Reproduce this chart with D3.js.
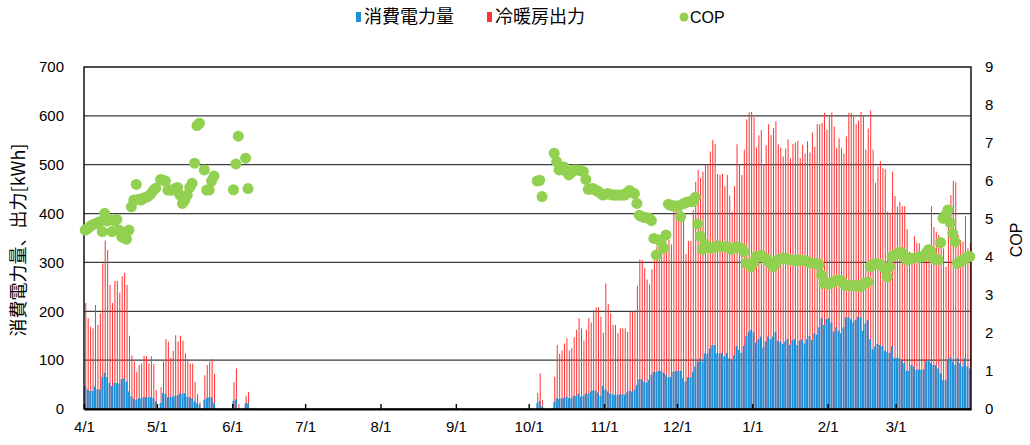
<!DOCTYPE html>
<html>
<head>
<meta charset="utf-8">
<script src="https://cdn.jsdelivr.net/npm/d3@7"></script>
<style>
body { margin: 0; background: #fff; }
text { font-family: "Liberation Sans", Arial, "Noto Sans CJK JP", sans-serif; fill: #000; }
.jp { font-family: "Noto Sans CJK JP", sans-serif; }
</style>
</head>
<body>
<svg id="chart" width="1030" height="445"></svg>
<script>
// daily values, 4/1 .. 3/31 (365 days), one line per month
const monthLabels = ['4/1','5/1','6/1','7/1','8/1','9/1','10/1','11/1','12/1','1/1','2/1','3/1'];
const monthStarts = [0, 30, 61, 91, 122, 153, 183, 214, 244, 275, 306, 334];
const leftTicks = [0, 100, 200, 300, 400, 500, 600, 700];
const rightTicks = [0, 1, 2, 3, 4, 5, 6, 7, 8, 9];
const seriesNames = ['消費電力量', '冷暖房出力', 'COP'];

const power = [
  47,40,37,37,46,40,40,65,74,65,53,47,53,53,52,61,63,56,36,26,21,19,22,22,24,25,24,24,23,16,
  0,12,33,31,24,25,25,27,28,32,32,32,25,24,22,16,12,9,0,19,22,24,24,13,0,0,0,0,0,0,0,
  17,20,2,0,0,12,12,0,0,0,0,0,0,0,0,0,0,0,0,0,0,0,0,0,0,0,0,0,0,0,
  0,0,0,0,0,0,0,0,0,0,0,0,0,0,0,0,0,0,0,0,0,0,0,0,0,0,0,0,0,0,0,
  0,0,0,0,0,0,0,0,0,0,0,0,0,0,0,0,0,0,0,0,0,0,0,0,0,0,0,0,0,0,0,
  0,0,0,0,0,0,0,0,0,0,0,0,0,0,0,0,0,0,0,0,0,0,0,0,0,0,0,0,0,0,
  0,0,0,12,16,5,0,0,0,0,14,22,20,22,23,25,22,22,27,27,31,25,27,32,31,36,38,37,34,27,47,
  40,36,32,30,29,29,30,30,29,34,37,36,40,49,61,61,56,54,60,70,76,76,78,78,74,70,65,65,76,78,
  78,78,63,56,65,65,76,87,97,104,97,114,113,124,131,131,114,114,115,108,114,104,100,110,129,121,115,129,149,158,162,
  157,136,143,148,126,138,149,143,148,157,140,138,133,138,143,131,141,143,131,140,143,134,143,149,141,155,152,167,186,172,184,
  186,177,158,167,160,155,167,188,188,184,177,182,189,188,160,175,182,143,122,128,133,131,129,119,117,115,129,104,
  104,104,100,94,78,78,90,87,80,81,80,81,98,100,94,90,90,83,73,59,59,102,106,97,90,104,94,87,104,87,83
];

const output = [
  217,186,169,165,213,172,196,298,345,325,254,217,262,262,238,272,279,254,150,110,97,76,90,93,109,108,93,108,92,39,
  0,45,97,143,138,105,119,151,138,150,140,114,102,93,93,55,31,14,0,69,90,97,102,72,0,0,0,0,0,0,0,
  55,83,10,0,0,27,35,0,0,0,0,0,0,0,0,0,0,0,0,0,0,0,0,0,0,0,0,0,0,0,
  0,0,0,0,0,0,0,0,0,0,0,0,0,0,0,0,0,0,0,0,0,0,0,0,0,0,0,0,0,0,0,
  0,0,0,0,0,0,0,0,0,0,0,0,0,0,0,0,0,0,0,0,0,0,0,0,0,0,0,0,0,0,0,
  0,0,0,0,0,0,0,0,0,0,0,0,0,0,0,0,0,0,0,0,0,0,0,0,0,0,0,0,0,0,
  0,0,0,33,73,18,0,0,0,0,66,131,113,120,134,145,120,125,147,162,186,165,140,162,186,177,198,208,208,189,156,
  257,215,196,172,172,155,165,165,165,158,199,199,199,252,306,305,289,265,255,286,304,332,340,338,332,322,346,337,404,421,
  400,407,400,317,344,344,407,465,489,473,486,500,500,527,551,542,481,479,481,456,479,437,404,456,542,499,479,531,593,607,608,
  597,535,560,571,501,540,583,561,575,589,542,535,517,533,552,513,542,545,549,513,541,523,548,525,566,537,583,583,586,606,571,
  601,607,578,534,554,534,523,558,606,606,598,583,590,608,601,531,574,611,531,463,496,507,493,491,404,400,486,436,
  414,424,415,415,368,322,312,354,340,339,312,329,320,322,415,372,363,356,338,329,291,377,438,467,464,356,346,343,395,329,340
];

const N = null;
const cop = [
  4.71,4.75,4.80,4.85,4.87,4.90,4.93,4.67,5.15,4.95,4.99,4.67,4.95,4.99,4.71,4.53,4.50,4.47,4.71,5.32,5.50,5.91,5.52,5.50,5.55,5.57,5.60,5.66,5.75,5.81,
  N,6.04,6.02,6.00,5.76,5.76,5.76,5.80,5.83,5.63,5.41,5.50,5.63,5.83,5.94,6.47,7.46,7.52,N,6.29,5.76,5.76,6.00,6.13,N,N,N,N,N,N,N,
  5.77,6.45,7.18,N,N,6.60,5.80,N,N,N,N,N,N,N,N,N,N,N,N,N,N,N,N,N,N,N,N,N,N,N,
  N,N,N,N,N,N,N,N,N,N,N,N,N,N,N,N,N,N,N,N,N,N,N,N,N,N,N,N,N,N,N,
  N,N,N,N,N,N,N,N,N,N,N,N,N,N,N,N,N,N,N,N,N,N,N,N,N,N,N,N,N,N,N,
  N,N,N,N,N,N,N,N,N,N,N,N,N,N,N,N,N,N,N,N,N,N,N,N,N,N,N,N,N,N,
  N,N,N,6.00,6.02,5.59,N,N,N,N,6.73,6.51,6.29,6.33,6.37,6.25,6.16,6.22,6.29,6.29,6.29,6.27,6.25,6.04,5.78,5.79,5.80,5.76,5.73,5.68,5.63,
  5.65,5.67,5.65,5.63,5.63,5.63,5.63,5.63,5.63,5.70,5.75,5.70,5.67,5.41,5.10,5.06,5.04,5.03,5.02,4.96,4.49,4.05,4.45,4.38,4.23,4.58,5.39,5.36,5.34,5.34,
  5.34,5.06,5.40,5.43,5.45,5.46,5.46,5.57,4.87,4.55,4.20,4.34,4.27,4.25,4.23,4.26,4.29,4.28,4.27,4.27,4.27,4.23,4.20,4.24,4.27,4.25,4.23,4.14,3.83,3.80,3.75,
  3.85,4.01,4.02,4.04,4.00,3.97,3.90,3.83,3.74,3.80,3.92,3.95,3.97,3.96,3.95,3.93,3.92,3.90,3.91,3.92,3.91,3.90,3.88,3.85,3.84,3.83,3.82,3.80,3.53,3.31,3.30,
  3.29,3.32,3.34,3.38,3.38,3.38,3.30,3.25,3.25,3.25,3.25,3.25,3.23,3.22,3.28,3.32,3.34,3.75,3.80,3.83,3.82,3.81,3.75,3.70,3.48,3.74,4.01,4.05,
  4.08,4.12,4.12,4.02,3.92,3.95,3.97,3.97,3.98,4.00,4.00,4.01,4.10,4.19,4.15,3.97,3.95,3.92,4.38,5.02,5.10,5.24,4.90,4.62,4.40,3.83,3.88,3.92,3.95,4.00,4.01
];

const colors = { power: '#1f8fd8', output: '#ff3333', cop: '#92d050' };

const svg = d3.select('#chart');
const plot = { left: 84, right: 971, top: 67, bottom: 409 };

const x = d3.scaleLinear().domain([0, power.length]).range([plot.left, plot.right]);
const yL = d3.scaleLinear().domain([0, 700]).range([plot.bottom, plot.top]);
const yR = d3.scaleLinear().domain([0, 9]).range([plot.bottom, plot.top]);

// grid
svg.append('g').selectAll('line').data(leftTicks.slice(1, -1)).enter().append('line')
  .attr('x1', plot.left).attr('x2', plot.right)
  .attr('y1', d => yL(d)).attr('y2', d => yL(d))
  .attr('stroke', '#3c3c3c').attr('stroke-width', 1.2);

const days = d3.range(power.length);

// bars: red output behind, blue power on top
svg.append('g').selectAll('rect').data(days.filter(i => output[i] > 0)).enter().append('rect')
  .attr('x', i => x(i) + 1.25).attr('width', 1.0)
  .attr('y', i => yL(output[i])).attr('height', i => yL(0) - yL(output[i]))
  .attr('fill', colors.output);

svg.append('g').selectAll('rect').data(days.filter(i => power[i] > 0)).enter().append('rect')
  .attr('x', i => x(i) + 0.3).attr('width', 1.9)
  .attr('y', i => yL(power[i])).attr('height', i => yL(0) - yL(power[i]))
  .attr('fill', colors.power);

// frame
svg.append('rect')
  .attr('x', plot.left).attr('y', plot.top)
  .attr('width', plot.right - plot.left).attr('height', plot.bottom - plot.top)
  .attr('fill', 'none').attr('stroke', '#000').attr('stroke-width', 1.4);

// x axis with inward ticks
const xAxis = svg.append('g').attr('transform', 'translate(0,' + plot.bottom + ')')
  .call(d3.axisBottom(x).tickValues(monthStarts).tickFormat((d, i) => monthLabels[i])
    .tickSizeInner(-5).tickSizeOuter(0).tickPadding(12));
xAxis.select('.domain').attr('stroke', '#000').attr('stroke-width', 2);
xAxis.selectAll('.tick line').attr('stroke', '#000').attr('stroke-width', 1.4);
xAxis.selectAll('text').attr('font-size', 15).attr('font-family', '"Liberation Sans", Arial, sans-serif');

const leftAxis = svg.append('g').attr('transform', 'translate(' + (plot.left - 20) + ',0)')
  .call(d3.axisLeft(yL).tickValues(leftTicks).tickSize(0).tickPadding(0));
leftAxis.select('.domain').remove();
leftAxis.selectAll('text').attr('font-size', 15).attr('font-family', '"Liberation Sans", Arial, sans-serif');

const rightAxis = svg.append('g').attr('transform', 'translate(' + (plot.right + 14) + ',0)')
  .call(d3.axisRight(yR).tickValues(rightTicks).tickSize(0).tickPadding(0));
rightAxis.select('.domain').remove();
rightAxis.selectAll('text').attr('font-size', 15).attr('font-family', '"Liberation Sans", Arial, sans-serif');

// COP dots
svg.append('g').selectAll('circle').data(days.filter(i => cop[i] != null)).enter().append('circle')
  .attr('cx', i => x(i + 0.5)).attr('cy', i => yR(cop[i]))
  .attr('r', 5.5).attr('fill', colors.cop);

// axis titles
svg.append('text').attr('class', 'jp')
  .attr('transform', 'translate(25,240) rotate(-90)')
  .attr('text-anchor', 'middle').attr('font-size', 18)
  .text('消費電力量、出力[kWh]');
svg.append('text')
  .attr('transform', 'translate(1022,240) rotate(-90)')
  .attr('text-anchor', 'middle').attr('font-size', 16)
  .text('COP');

// legend
const legend = svg.append('g').attr('transform', 'translate(0,17)');
legend.append('rect').attr('x', 356).attr('y', -5).attr('width', 5).attr('height', 10).attr('fill', colors.power);
legend.append('text').attr('class', 'jp').attr('x', 364).attr('dy', '0.35em').attr('font-size', 18).text(seriesNames[0]);
legend.append('rect').attr('x', 487).attr('y', -5).attr('width', 5).attr('height', 10).attr('fill', colors.output);
legend.append('text').attr('class', 'jp').attr('x', 495).attr('dy', '0.35em').attr('font-size', 18).text(seriesNames[1]);
legend.append('circle').attr('cx', 684).attr('cy', 0).attr('r', 4.5).attr('fill', colors.cop);
legend.append('text').attr('x', 690).attr('dy', '0.35em').attr('font-size', 16).text(seriesNames[2]);
</script>
</body>
</html>
